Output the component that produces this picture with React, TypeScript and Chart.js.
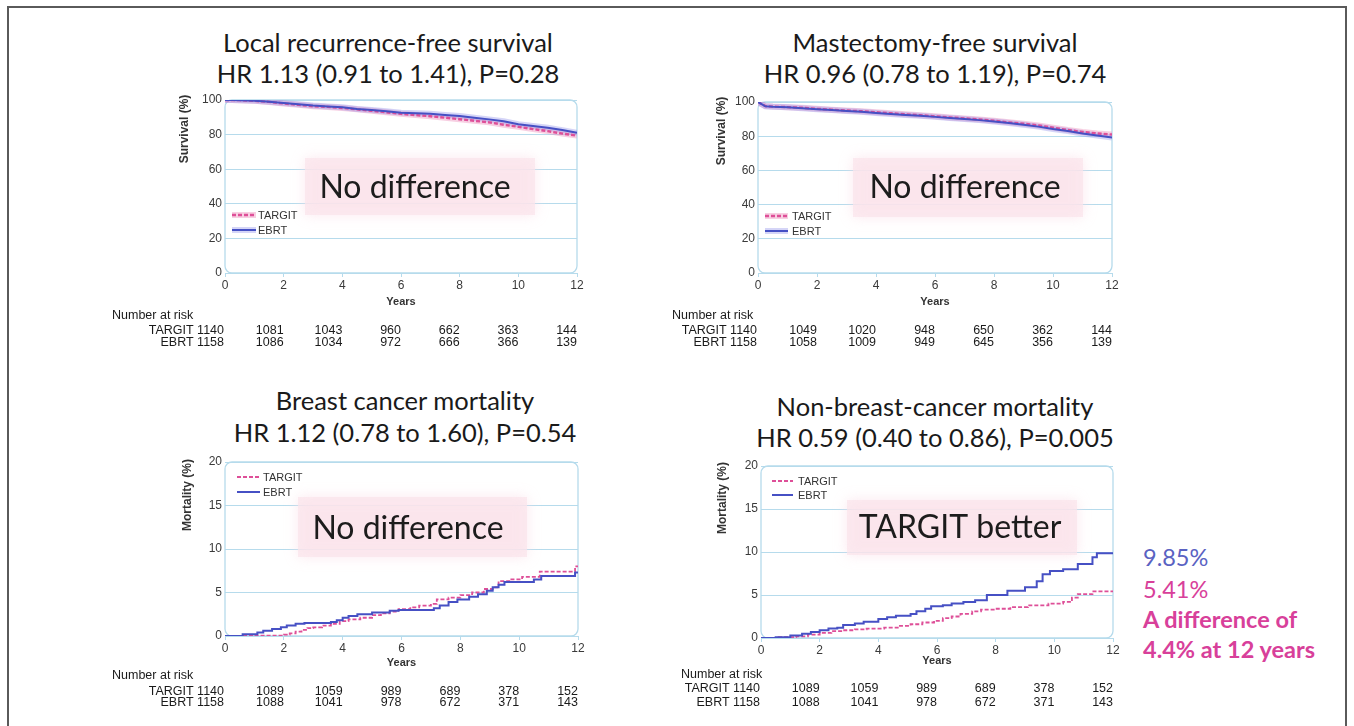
import { useEffect, useRef } from "react";
import { Chart, registerables } from "chart.js";

Chart.register(...registerables);

// ---------------- data ----------------
const yearTicks = [0, 2, 4, 6, 8, 10, 12];

const topYears = [0, 0.25, 0.5, 1, 1.5, 2, 2.5, 3, 3.5, 4, 4.5, 5, 5.5, 6, 6.5, 7, 7.5, 8, 8.5, 9, 9.5, 10, 10.5, 11, 11.5, 12];

const lrfsTargit = [100, 99.95, 99.9, 99.5, 98.9, 98.0, 97.2, 96.4, 96.0, 95.4, 94.6, 93.8, 92.9, 92.0, 91.3, 90.6, 89.8, 88.9, 88.0, 87.1, 85.7, 84.5, 83.2, 82.0, 80.6, 79.4];
const lrfsEbrt = [100, 99.95, 99.9, 99.6, 99.0, 98.2, 97.5, 96.8, 96.3, 95.8, 94.8, 94.2, 93.5, 92.7, 92.4, 92.0, 91.4, 90.7, 89.8, 88.8, 87.7, 86.0, 85.0, 84.0, 82.6, 81.0];

const mfsTargit = [100, 97.6, 97.3, 97.0, 96.6, 96.0, 95.5, 95.0, 94.6, 94.0, 93.4, 92.8, 92.3, 91.6, 91.0, 90.4, 89.8, 89.0, 88.1, 87.3, 86.3, 85.0, 83.6, 82.5, 81.6, 81.0];
const mfsEbrt = [100, 97.5, 97.2, 96.9, 96.4, 95.8, 95.3, 94.8, 94.3, 93.6, 93.0, 92.4, 91.9, 91.3, 90.7, 90.0, 89.4, 88.6, 87.7, 86.7, 85.6, 84.2, 83.0, 81.6, 80.4, 79.2];

const bcmTargitYears = [0, 1.0, 2.0, 2.2, 2.4, 2.6, 2.8, 3.0, 3.3, 3.6, 3.9, 4.2, 4.6, 5.0, 5.3, 5.6, 5.9, 6.3, 6.6, 7.0, 7.2, 7.6, 8.0, 8.4, 8.8, 9.1, 9.3, 9.7, 10.1, 10.7, 11.9, 12];
const bcmTargitValues = [0, 0.05, 0.15, 0.3, 0.5, 0.7, 0.9, 1.0, 1.2, 1.4, 1.7, 1.9, 2.1, 2.4, 2.6, 2.8, 3.1, 3.3, 3.5, 3.7, 4.2, 4.4, 4.7, 5.0, 5.4, 5.6, 6.3, 6.5, 6.8, 7.4, 8.0, 8.0];
const bcmEbrtYears = [0, 0.6, 1.1, 1.3, 1.6, 1.9, 2.1, 2.4, 2.7, 3.6, 3.8, 4.0, 4.2, 4.5, 5.0, 5.6, 5.9, 7.1, 7.3, 7.6, 7.9, 8.3, 8.6, 8.9, 9.1, 9.3, 9.5, 10.5, 10.75, 11.9, 12];
const bcmEbrtValues = [0, 0.2, 0.4, 0.6, 0.8, 1.0, 1.2, 1.4, 1.5, 1.6, 1.8, 2.1, 2.3, 2.5, 2.7, 2.9, 3.0, 3.2, 3.5, 3.9, 4.2, 4.5, 4.8, 5.2, 5.6, 5.9, 6.2, 6.5, 6.9, 7.3, 7.3];

const nbcmTargitYears = [0, 0.6, 1.2, 1.6, 2.0, 2.4, 2.8, 3.2, 3.6, 4.2, 4.7, 5.1, 5.5, 5.9, 6.2, 6.5, 6.8, 7.2, 7.5, 8.0, 8.5, 9.1, 9.8, 10.3, 10.6, 10.8, 11.3, 12];
const nbcmTargitValues = [0, 0.1, 0.2, 0.4, 0.6, 0.8, 0.9, 1.0, 1.1, 1.2, 1.4, 1.6, 1.8, 2.0, 2.3, 2.5, 2.8, 3.1, 3.3, 3.4, 3.6, 3.8, 4.0, 4.2, 4.7, 5.1, 5.41, 5.41];
const nbcmEbrtYears = [0, 0.5, 1.0, 1.4, 1.7, 2.0, 2.3, 2.6, 2.8, 3.2, 3.5, 4.0, 4.3, 4.6, 5.1, 5.3, 5.6, 5.8, 6.2, 6.5, 6.9, 7.3, 7.7, 8.4, 9.0, 9.4, 9.6, 9.85, 10.3, 10.8, 11.3, 11.45, 12];
const nbcmEbrtValues = [0, 0.1, 0.3, 0.5, 0.7, 0.9, 1.1, 1.2, 1.5, 1.7, 1.9, 2.2, 2.4, 2.6, 2.8, 3.1, 3.4, 3.7, 3.8, 4.0, 4.2, 4.4, 5.0, 5.5, 5.9, 6.6, 7.4, 7.8, 8.0, 8.6, 9.4, 9.85, 9.85];

const lrfsRiskTargit = [1140, 1081, 1043, 960, 662, 363, 144];
const lrfsRiskEbrt = [1158, 1086, 1034, 972, 666, 366, 139];
const mfsRiskTargit = [1140, 1049, 1020, 948, 650, 362, 144];
const mfsRiskEbrt = [1158, 1058, 1009, 949, 645, 356, 139];
const mortRiskTargit = [1140, 1089, 1059, 989, 689, 378, 152];
const mortRiskEbrt = [1158, 1088, 1041, 978, 672, 371, 143];

// ---------------- styles ----------------
const PINK = "#de4f98";
const PINK_BAND = "rgba(236,140,186,0.42)";
const BLUE = "#4650c4";
const BLUE_BAND = "rgba(150,150,235,0.40)";
const GRID = "#b6dbec";
const SANS = "'Liberation Sans', Arial, Helvetica, sans-serif";
const HUMAN = "Lato, 'Open Sans', sans-serif";

type Panel = {
  key: string;
  title1: string;
  title2: string;
  titleX: number;
  titleY1: number;
  titleY2: number;
  canvas: { x: number; y: number; w: number; h: number };
  yWidth: number;
  padTop: number;
  padRight: number;
  xHeight: number;
  yMax: number;
  yStep: number;
  yTitle: string;
  yTitleDx: number;
  yTitleDy: number;
  tX: number[];
  tY: number[];
  eX: number[];
  eY: number[];
  stepped: boolean;
  bands: boolean;
  overlay: string;
  box: [number, number, number, number];
  textC: [number, number];
  legDx: number;
  legLen: number;
  legTextDx: number;
  legDy: [number, number];
  yearsDy: number;
  riskDx: number;
  riskDy: [number, number, number];
  riskT: number[];
  riskE: number[];
};

const panels: Panel[] = [
  {
    key: "lrfs",
    title1: "Local recurrence-free survival",
    title2: "HR 1.13 (0.91 to 1.41), P=0.28",
    titleX: 388, titleY1: 42, titleY2: 73,
    canvas: { x: 100, y: 88, w: 500, h: 272 },
    yWidth: 125, padTop: 12, padRight: 23, xHeight: 87,
    yMax: 100, yStep: 20, yTitle: "Survival (%)", yTitleDx: -40, yTitleDy: 29,
    tX: topYears, tY: lrfsTargit, eX: topYears, eY: lrfsEbrt,
    stepped: false, bands: true,
    overlay: "No difference", box: [80, 58, 310, 115], textC: [190, 88],
    legDx: 7, legLen: 24, legTextDx: 33, legDy: [115, 130],
    yearsDy: 29, riskDx: -113, riskDy: [43, 58, 70],
    riskT: lrfsRiskTargit, riskE: lrfsRiskEbrt,
  },
  {
    key: "mfs",
    title1: "Mastectomy-free survival",
    title2: "HR 0.96 (0.78 to 1.19), P=0.74",
    titleX: 935, titleY1: 42, titleY2: 73,
    canvas: { x: 660, y: 88, w: 470, h: 272 },
    yWidth: 98, padTop: 14, padRight: 18, xHeight: 87,
    yMax: 100, yStep: 20, yTitle: "Survival (%)", yTitleDx: -36, yTitleDy: 29,
    tX: topYears, tY: mfsTargit, eX: topYears, eY: mfsEbrt,
    stepped: false, bands: true,
    overlay: "No difference", box: [95, 56, 325, 115], textC: [207, 86],
    legDx: 7, legLen: 23, legTextDx: 34, legDy: [114, 129],
    yearsDy: 29, riskDx: -86, riskDy: [43, 58, 70],
    riskT: mfsRiskTargit, riskE: mfsRiskEbrt,
  },
  {
    key: "bcm",
    title1: "Breast cancer mortality",
    title2: "HR 1.12 (0.78 to 1.60), P=0.54",
    titleX: 405, titleY1: 400, titleY2: 432,
    canvas: { x: 100, y: 450, w: 500, h: 272 },
    yWidth: 125, padTop: 12, padRight: 22, xHeight: 86,
    yMax: 20, yStep: 5, yTitle: "Mortality (%)", yTitleDx: -37, yTitleDy: 33,
    tX: bcmTargitYears, tY: bcmTargitValues, eX: bcmEbrtYears, eY: bcmEbrtValues,
    stepped: true, bands: false,
    overlay: "No difference", box: [73, 35, 302, 95], textC: [183, 67],
    legDx: 12, legLen: 23, legTextDx: 38, legDy: [15, 30],
    yearsDy: 27, riskDx: -113, riskDy: [40, 56, 67],
    riskT: mortRiskTargit, riskE: mortRiskEbrt,
  },
  {
    key: "nbcm",
    title1: "Non-breast-cancer mortality",
    title2: "HR 0.59 (0.40 to 0.86), P=0.005",
    titleX: 935, titleY1: 406, titleY2: 437,
    canvas: { x: 660, y: 452, w: 470, h: 270 },
    yWidth: 101, padTop: 14, padRight: 17, xHeight: 84,
    yMax: 20, yStep: 5, yTitle: "Mortality (%)", yTitleDx: -38, yTitleDy: 32,
    tX: nbcmTargitYears, tY: nbcmTargitValues, eX: nbcmEbrtYears, eY: nbcmEbrtValues,
    stepped: true, bands: false,
    overlay: "TARGIT better", box: [86, 34, 316, 89], textC: [199, 62],
    legDx: 11, legLen: 21, legTextDx: 37, legDy: [15, 29],
    yearsDy: 23, riskDx: -80, riskDy: [37, 51, 65],
    riskT: mortRiskTargit, riskE: mortRiskEbrt,
  },
];

const pts = (xs: number[], ys: number[]) => xs.map((x, i) => ({ x, y: ys[i] }));

function PanelChart({ p }: { p: Panel }) {
  const ref = useRef<HTMLCanvasElement | null>(null);

  useEffect(() => {
    if (!ref.current) return;
    const targitWidth = p.bands ? 2.4 : 1.8;

    const decor = {
      id: "decor_" + p.key,
      beforeDatasetsDraw(chart: any) {
        const { ctx, chartArea } = chart;
        const { left, top } = chartArea;
        ctx.save();
        ctx.fillStyle = "rgba(251,228,236,0.72)";
        ctx.shadowColor = "rgba(250,222,232,0.95)";
        ctx.shadowBlur = 12;
        const [x1, y1, x2, y2] = p.box;
        ctx.fillRect(left + x1, top + y1, x2 - x1, y2 - y1);
        ctx.restore();
        // rounded plot frame
        ctx.save();
        ctx.strokeStyle = GRID;
        ctx.lineWidth = 1.3;
        ctx.beginPath();
        ctx.roundRect(chartArea.left, chartArea.top, chartArea.right - chartArea.left, chartArea.bottom - chartArea.top, 7);
        ctx.stroke();
        ctx.restore();
      },
      afterDraw(chart: any) {
        const { ctx, chartArea } = chart;
        const { left, top, bottom, right } = chartArea;
        const xs = chart.scales.x;
        ctx.save();
        // overlay text
        ctx.fillStyle = "#1c1c1c";
        ctx.font = `32px ${HUMAN}`;
        ctx.textAlign = "center";
        ctx.textBaseline = "middle";
        ctx.fillText(p.overlay, left + p.textC[0], top + p.textC[1]);

        // legend
        const lx = left + p.legDx;
        const rows: [string, string, string, boolean][] = [
          ["TARGIT", PINK, PINK_BAND, true],
          ["EBRT", BLUE, BLUE_BAND, false],
        ];
        rows.forEach(([label, col, band, dashed], i) => {
          const ly = top + p.legDy[i];
          if (p.bands) {
            ctx.strokeStyle = band;
            ctx.lineWidth = 6;
            ctx.setLineDash([]);
            ctx.beginPath();
            ctx.moveTo(lx, ly);
            ctx.lineTo(lx + p.legLen, ly);
            ctx.stroke();
          }
          ctx.strokeStyle = col;
          ctx.lineWidth = dashed ? targitWidth : 2;
          ctx.setLineDash(dashed ? [4, 2] : []);
          ctx.beginPath();
          ctx.moveTo(lx, ly);
          ctx.lineTo(lx + p.legLen, ly);
          ctx.stroke();
          ctx.setLineDash([]);
          ctx.fillStyle = "#333";
          ctx.font = `11px ${SANS}`;
          ctx.textAlign = "left";
          ctx.textBaseline = "middle";
          ctx.fillText(label, left + p.legTextDx, ly + 0.5);
        });

        // axis titles
        ctx.fillStyle = "#333";
        ctx.font = `bold 11px ${SANS}`;
        ctx.textAlign = "center";
        ctx.textBaseline = "middle";
        ctx.fillText("Years", (left + right) / 2, bottom + p.yearsDy);
        ctx.save();
        ctx.font = `bold 12px ${SANS}`;
        ctx.translate(left + p.yTitleDx, top + p.yTitleDy);
        ctx.rotate(-Math.PI / 2);
        ctx.fillText(p.yTitle, 0, 0);
        ctx.restore();

        // number at risk table
        ctx.fillStyle = "#1a1a1a";
        ctx.font = `12.5px ${SANS}`;
        ctx.textBaseline = "middle";
        ctx.textAlign = "left";
        ctx.fillText("Number at risk", left + p.riskDx, bottom + p.riskDy[0]);
        ctx.textAlign = "right";
        yearTicks.forEach((yr, i) => {
          const px = xs.getPixelForValue(yr);
          const t = i === 0 ? `TARGIT ${p.riskT[i]}` : `${p.riskT[i]}`;
          const e = i === 0 ? `EBRT ${p.riskE[i]}` : `${p.riskE[i]}`;
          const ox = i === 0 ? -1 : 0;
          ctx.fillText(t, px + ox, bottom + p.riskDy[1]);
          ctx.fillText(e, px + ox, bottom + p.riskDy[2]);
        });
        ctx.restore();
      },
    };

    const datasets: any[] = [
      {
        label: "EBRT",
        data: pts(p.eX, p.eY),
        borderColor: BLUE,
        borderWidth: 2,
        pointRadius: 0,
        stepped: p.stepped,
        fill: false,
        order: 1,
      },
      {
        label: "TARGIT",
        data: pts(p.tX, p.tY),
        borderColor: PINK,
        borderWidth: targitWidth,
        borderDash: [4, 2],
        pointRadius: 0,
        stepped: p.stepped,
        fill: false,
        order: 2,
      },
    ];
    if (p.bands) {
      datasets.push(
        {
          label: "EBRT CI",
          data: pts(p.eX, p.eY),
          borderColor: BLUE_BAND,
          borderWidth: 6,
          pointRadius: 0,
          fill: false,
          order: 3,
        },
        {
          label: "TARGIT CI",
          data: pts(p.tX, p.tY),
          borderColor: PINK_BAND,
          borderWidth: 6,
          pointRadius: 0,
          fill: false,
          order: 4,
        }
      );
    }

    const chart = new Chart(ref.current, {
      type: "line",
      data: { datasets },
      options: {
        animation: false,
        responsive: false,
        maintainAspectRatio: false,
        devicePixelRatio: 1,
        layout: { padding: { left: 0, top: p.padTop, right: p.padRight, bottom: 0 } },
        plugins: { legend: { display: false }, tooltip: { enabled: false }, title: { display: false } },
        events: [],
        scales: {
          x: {
            type: "linear",
            min: 0,
            max: 12,
            ticks: { stepSize: 2, color: "#3a3a3a", font: { family: SANS, size: 12 }, padding: 1, maxRotation: 0 },
            grid: { drawOnChartArea: false, tickLength: 4, color: GRID },
            border: { display: false },
            afterFit(s: any) {
              s.height = p.xHeight;
              s.paddingLeft = 0;
              s.paddingRight = 0;
            },
          },
          y: {
            type: "linear",
            min: 0,
            max: p.yMax,
            ticks: { stepSize: p.yStep, color: "#3a3a3a", font: { family: SANS, size: 12 }, padding: 3 },
            grid: { drawTicks: false, color: GRID, lineWidth: 1 },
            border: { display: false },
            afterFit(s: any) {
              s.width = p.yWidth;
              s.paddingTop = 0;
              s.paddingBottom = 0;
            },
          },
        },
      },
      plugins: [decor],
    });
    return () => chart.destroy();
  }, [p]);

  return (
    <canvas
      ref={ref}
      width={p.canvas.w}
      height={p.canvas.h}
      style={{ position: "absolute", left: p.canvas.x, top: p.canvas.y, width: p.canvas.w, height: p.canvas.h }}
    />
  );
}

const titleStyle = (x: number, y: number): any => ({
  position: "absolute",
  left: x - 300,
  top: y - 15,
  width: 600,
  textAlign: "center",
  fontFamily: HUMAN,
  fontSize: 25.5,
  lineHeight: "30px",
  color: "#1a1a1a",
  whiteSpace: "nowrap",
});

const noteStyle = (y: number, color: string, bold: boolean): any => ({
  position: "absolute",
  left: 1143,
  top: y - 14,
  fontFamily: HUMAN,
  fontSize: 23.5,
  lineHeight: "28px",
  fontWeight: bold ? 700 : 400,
  color,
  whiteSpace: "nowrap",
});

export default function App() {
  return (
    <div style={{ position: "absolute", left: 0, top: 0, width: 1354, height: 726, overflow: "hidden", background: "#fff" }}>
      <div
        style={{
          position: "absolute",
          left: 7,
          top: 6,
          width: 1336,
          height: 740,
          border: "2px solid #5a5a5a",
        }}
      />
      {panels.map((p) => (
        <div key={p.key}>
          <div style={titleStyle(p.titleX, p.titleY1)}>{p.title1}</div>
          <div style={titleStyle(p.titleX, p.titleY2)}>{p.title2}</div>
          <PanelChart p={p} />
        </div>
      ))}
      <div style={noteStyle(557, "#5a62c2", false)}>9.85%</div>
      <div style={noteStyle(589, "#d8409a", false)}>5.41%</div>
      <div style={noteStyle(619, "#d8409a", true)}>A difference of</div>
      <div style={noteStyle(649, "#d8409a", true)}>4.4% at 12 years</div>
    </div>
  );
}
